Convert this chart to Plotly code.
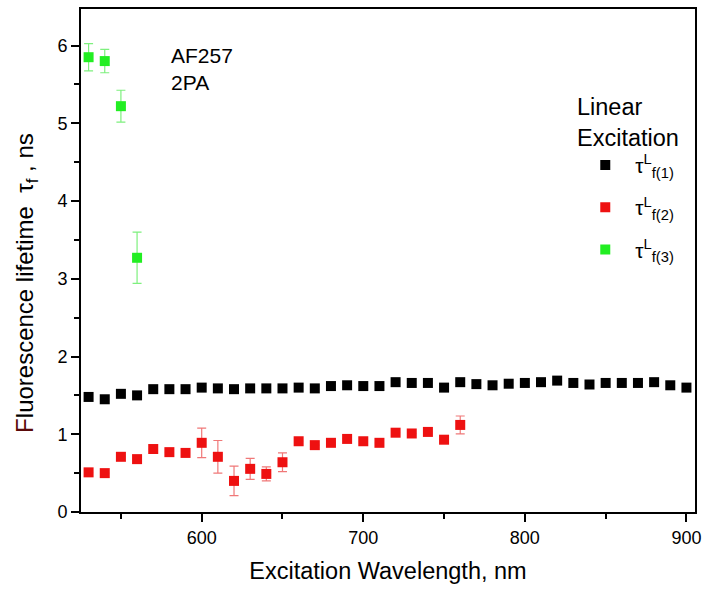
import plotly.graph_objects as go

# Data
wl_1 = [530, 540, 550, 560, 570, 580, 590, 600, 610, 620, 630, 640, 650, 660, 670, 680, 690, 700, 710,
        720, 730, 740, 750, 760, 770, 780, 790, 800, 810, 820, 830, 840, 850, 860, 870, 880, 890, 900]
tau_1 = [1.48, 1.45, 1.52, 1.50, 1.58, 1.58, 1.58, 1.60, 1.59, 1.58, 1.59, 1.59, 1.59, 1.60, 1.59, 1.62, 1.63, 1.62, 1.62,
         1.67, 1.66, 1.66, 1.60, 1.67, 1.645, 1.63, 1.65, 1.66, 1.67, 1.69, 1.66, 1.64, 1.66, 1.66, 1.66, 1.67, 1.63, 1.60]

wl_2 = [530, 540, 550, 560, 570, 580, 590, 600, 610, 620, 630, 640, 650, 660, 670, 680, 690, 700, 710,
        720, 730, 740, 750, 760]
tau_2 = [0.51, 0.50, 0.71, 0.68, 0.81, 0.77, 0.76, 0.89, 0.71, 0.40, 0.555, 0.49, 0.64, 0.91, 0.86, 0.89, 0.94, 0.91, 0.89,
         1.02, 1.01, 1.03, 0.93, 1.12]
err_2 = [0, 0, 0, 0, 0, 0, 0, 0.19, 0.21, 0.19, 0.135, 0.09, 0.12, 0, 0, 0, 0, 0, 0,
         0, 0, 0, 0, 0.115]

wl_3 = [530, 540, 550, 560]
tau_3 = [5.85, 5.80, 5.22, 3.27]
err_3 = [0.175, 0.15, 0.205, 0.33]

names = ["τ<sup>L</sup><sub>f(1)</sub>", "τ<sup>L</sup><sub>f(2)</sub>", "τ<sup>L</sup><sub>f(3)</sub>"]
legend_title = "Linear<br>Excitation"
sample_label = "AF257<br>2PA"
x_title = "Excitation Wavelength, nm"
y_title = "<span style='color:#5a0a0a'>F</span>luorescence lifetime  τ<sub>f</sub> , ns"

FONT = "Liberation Sans, Arial, sans-serif"

fig = go.Figure()
fig.add_trace(go.Scatter(x=wl_1, y=tau_1, mode="markers", name=names[0], legendgroup="a",
                         marker=dict(symbol="square", size=10, color="#000000")))
fig.add_trace(go.Scatter(x=wl_2, y=tau_2, mode="markers", name=names[1], legendgroup="b",
                         marker=dict(symbol="square", size=10, color="#ee1111"),
                         error_y=dict(type="data", array=err_2, visible=True, color="#f07878",
                                      thickness=1.2, width=4.5)))
fig.add_trace(go.Scatter(x=wl_3, y=tau_3, mode="markers", name=names[2], legendgroup="c",
                         marker=dict(symbol="square", size=10, color="#22ee22"),
                         error_y=dict(type="data", array=err_3, visible=True, color="#7ef07e",
                                      thickness=1.2, width=4.5)))

fig.add_annotation(x=0.143, y=0.935, xref="paper", yref="paper", xanchor="left", yanchor="top",
                   text=sample_label, showarrow=False, align="left",
                   font=dict(family=FONT, size=21, color="#000000"))
fig.add_annotation(x=0.805, y=0.835, xref="paper", yref="paper", xanchor="left", yanchor="top",
                   text=legend_title, showarrow=False, align="left",
                   font=dict(family=FONT, size=23.5, color="#000000"))
fig.add_annotation(x=-0.09, y=0.455, xref="paper", yref="paper", xanchor="center", yanchor="middle",
                   text=y_title, showarrow=False, textangle=-90,
                   font=dict(family=FONT, size=24, color="#000000"))

fig.update_layout(
    width=708, height=597,
    margin=dict(l=81, r=7, t=8, b=85),
    plot_bgcolor="white", paper_bgcolor="white",
    font=dict(family=FONT, color="#000000"),
    showlegend=True,
    legend=dict(x=0.805, y=0.73, xanchor="left", yanchor="top",
                font=dict(size=21, family=FONT), bgcolor="rgba(0,0,0,0)",
                itemwidth=50, tracegroupgap=12),
    xaxis=dict(range=[525.3, 905.3], tickvals=[600, 700, 800, 900], ticks="outside", ticklen=8,
               tickwidth=1.5, tickcolor="black",
               minor=dict(tickvals=[550, 650, 750, 850], ticks="outside", ticklen=5, tickwidth=1.5,
                          tickcolor="black"),
               showline=True, linecolor="black", linewidth=2, mirror=True, showgrid=False, zeroline=False,
               tickfont=dict(size=18, family=FONT),
               title=dict(text=x_title, font=dict(size=23.5, family=FONT), standoff=16)),
    yaxis=dict(range=[0, 6.47], tickvals=[0, 1, 2, 3, 4, 5, 6], ticks="outside", ticklen=8,
               tickwidth=1.5, tickcolor="black",
               minor=dict(tickvals=[0.5, 1.5, 2.5, 3.5, 4.5, 5.5], ticks="outside", ticklen=5,
                          tickwidth=1.5, tickcolor="black"),
               showline=True, linecolor="black", linewidth=2, mirror=True, showgrid=False, zeroline=False,
               tickfont=dict(size=18, family=FONT)),
)

fig.write_html("out.html")
